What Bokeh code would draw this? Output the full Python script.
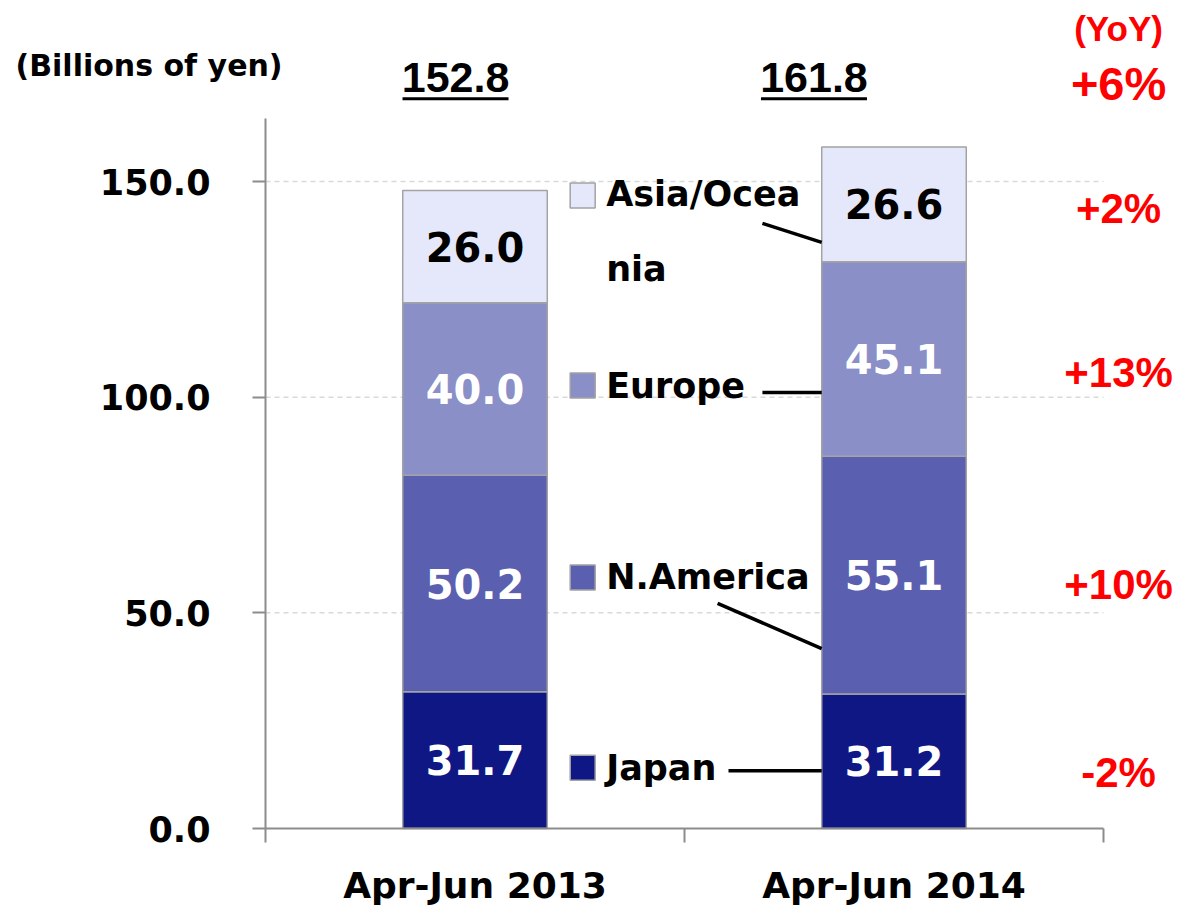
from bokeh.plotting import figure
from bokeh.models import Range1d, FixedTicker, ColumnDataSource, NumeralTickFormatter
from bokeh.core.properties import value
from bokeh.embed import file_html
from bokeh.resources import INLINE
import numpy as np

# ---- data ----
periods = ["Apr-Jun 2013", "Apr-Jun 2014"]
regions = ["Japan", "N.America", "Europe", "Asia/Oceania"]
legend_texts = ["Japan", "N.America", "Europe", "Asia/Ocea\nnia"]
japan = [31.7, 31.2]
n_america = [50.2, 55.1]
europe = [40.0, 45.1]
asia_oceania = [26.0, 26.6]
totals = ["152.8", "161.8"]
yoy_regions = ["-2%", "+10%", "+13%", "+2%"]
yoy_total = "+6%"
y_ticks = [0, 50, 100, 150]

# ---- style ----
colors = ["#0F1785", "#5A5FAF", "#8A8FC8", "#E4E8FA"]
value_text_colors = ["white", "white", "white", "black"]
FONT = "DejaVu Sans"
RFONT = "Liberation Sans"
AXIS_GRAY = "#8C8C8C"

xs = [0.5, 1.5]
bar_w = 0.345
W, H = 1177, 908
PX_X = 419.0      # pixels per category
PX_Y = 4.3133     # pixels per billion yen
X0_PX, Y0_PX = 265, 828
x_lo, x_hi = -X0_PX / PX_X, (W - X0_PX) / PX_X
y_lo, y_hi = -(H - Y0_PX) / PX_Y, Y0_PX / PX_Y
y_top_axis = 164.6

p = figure(width=W, height=H, output_backend="svg", toolbar_location=None,
           title=None, x_range=Range1d(x_lo, x_hi), y_range=Range1d(y_lo, y_hi),
           min_border=0)
p.outline_line_color = None
p.background_fill_color = "white"
p.border_fill_color = "white"
p.xgrid.grid_line_color = None
p.ygrid.grid_line_color = None

# dashed gridlines across the category span
grid_y = [t for t in y_ticks if t > 0]
p.segment(x0=[0] * len(grid_y), y0=grid_y, x1=[2] * len(grid_y), y1=grid_y,
          line_color="#D9D9D9", line_width=1.5, line_dash="5 4")

series = [japan, n_america, europe, asia_oceania]
src = ColumnDataSource(dict(x=xs, **{r: s for r, s in zip(regions, series)}))
p.vbar_stack(regions, x="x", width=bar_w, source=src, fill_color=colors,
             line_color="#A3A3A3", line_width=1.5)

# segment value labels
arr = np.array(series)
tops = np.cumsum(arr, axis=0)
mids = tops - arr / 2
lx, ly, lt, lc = [], [], [], []
for i in range(len(regions)):
    for j in range(len(xs)):
        lx.append(xs[j]); ly.append(mids[i, j]); lt.append(f"{arr[i, j]:.1f}"); lc.append(value_text_colors[i])
p.text(x=lx, y=ly, text=lt, text_color=lc, text_align="center", text_baseline="middle",
       text_font=value(FONT), text_font_style="bold", text_font_size="40px")

# legend (manual, placed between the bars)
leg_sq_x = 0.757
leg_tx_x = 0.813
leg_sq_y = [14.1, 58.2, 102.7, 146.75]
leg_tx_y = [14.1, 58.2, 102.7, 138.4]
p.scatter(x=[leg_sq_x] * 4, y=leg_sq_y, marker="square", size=25, fill_color=colors,
          line_color="#A3A3A3", line_width=1.5)
p.text(x=[leg_tx_x] * 4, y=leg_tx_y, text=legend_texts, text_align="left", text_baseline="middle",
       text_font=value(FONT), text_font_style="bold", text_font_size="35px",
       text_color="black", text_line_height=1.87)

# connectors from legend to the 2014 bar
bar_left = xs[1] - bar_w / 2
con_x0 = [1.105, 1.079, 1.186, 1.186]
con_y0 = [13.4, 52.2, 101.1, 140.3]
con_y1 = [13.4, 41.7, 101.1, 135.9]
p.segment(x0=con_x0, y0=con_y0, x1=[bar_left] * 4, y1=con_y1, line_color="black", line_width=3.5)

# axes (pinned at the data origin)
p.yaxis.fixed_location = 0
p.yaxis.bounds = (0, y_top_axis)
p.yaxis.ticker = FixedTicker(ticks=y_ticks)
p.yaxis.formatter = NumeralTickFormatter(format="0.0")
p.yaxis.major_label_text_font = FONT
p.yaxis.major_label_text_font_style = "bold"
p.yaxis.major_label_text_font_size = "35px"
p.yaxis.major_label_text_color = "black"
p.yaxis.major_tick_out = 13
p.yaxis.major_tick_in = 0
p.yaxis.minor_tick_line_color = None
p.yaxis.major_label_standoff = 42
p.yaxis.axis_line_color = AXIS_GRAY
p.yaxis.axis_line_width = 2
p.yaxis.major_tick_line_color = AXIS_GRAY
p.yaxis.major_tick_line_width = 2

p.xaxis.fixed_location = 0
p.xaxis.bounds = (0, 2)
p.xaxis.ticker = FixedTicker(ticks=xs, minor_ticks=[0, 1, 2])
p.xaxis.major_label_overrides = {xs[0]: periods[0], xs[1]: periods[1]}
p.xaxis.major_label_text_font = FONT
p.xaxis.major_label_text_font_style = "bold"
p.xaxis.major_label_text_font_size = "36px"
p.xaxis.major_label_text_color = "black"
p.xaxis.major_tick_line_color = None
p.xaxis.major_tick_out = 0
p.xaxis.major_tick_in = 0
p.xaxis.minor_tick_out = 14
p.xaxis.minor_tick_in = 0
p.xaxis.minor_tick_line_color = AXIS_GRAY
p.xaxis.minor_tick_line_width = 2
p.xaxis.axis_line_color = AXIS_GRAY
p.xaxis.axis_line_width = 2
p.xaxis.major_label_standoff = 22

# unit label
p.text(x=[(15 - X0_PX) / PX_X], y=[176.9], text=["(Billions of yen)"], text_align="left",
       text_baseline="middle", text_font=value(FONT), text_font_style="bold",
       text_font_size="30px", text_color="black")

# totals with underline
tot_x = [0.4535, 1.309]
tot_half = 0.1265
p.text(x=tot_x, y=[174.1] * 2, text=totals, text_align="center", text_baseline="middle",
       text_font=value(RFONT), text_font_style="bold", text_font_size="43px", text_color="black")
p.segment(x0=[t - tot_half for t in tot_x], y0=[169.2] * 2, x1=[t + tot_half for t in tot_x],
          y1=[169.2] * 2, line_color="black", line_width=3)

# YoY labels
yoy_x = 2.036
p.text(x=[yoy_x], y=[185.5], text=["(YoY)"], text_align="center", text_baseline="middle",
       text_font=value(RFONT), text_font_style="bold", text_font_size="35px", text_color="#FF0000")
p.text(x=[yoy_x], y=[172.7], text=[yoy_total], text_align="center", text_baseline="middle",
       text_font=value(RFONT), text_font_style="bold", text_font_size="47px", text_color="#FF0000")
yoy_y = [13.0, 56.6, 105.7, 143.7]
p.text(x=[yoy_x] * 4, y=yoy_y, text=yoy_regions, text_align="center", text_baseline="middle",
       text_font=value(RFONT), text_font_style="bold", text_font_size="42px", text_color="#FF0000")

open("out.html", "w").write(file_html(p, INLINE))
